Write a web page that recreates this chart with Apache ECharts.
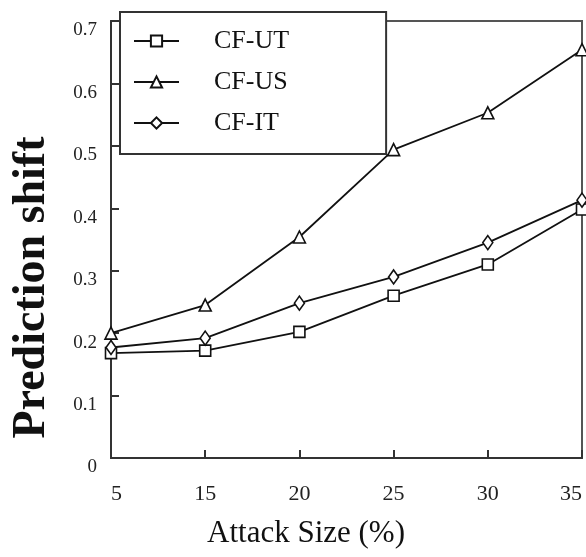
<!DOCTYPE html>
<html>
<head>
<meta charset="utf-8">
<script src="https://cdn.jsdelivr.net/npm/echarts@6/dist/echarts.min.js"></script>
<style>html,body{margin:0;padding:0;background:#fff}#c{width:586px;height:557px}</style>
</head>
<body>
<div id="c"></div>
<script>
const categories = ['5', '15', '20', '25', '30', '35'];
const cfUT = [0.168, 0.172, 0.202, 0.260, 0.310, 0.398];
const cfUS = [0.200, 0.245, 0.354, 0.494, 0.553, 0.654];
const cfIT = [0.177, 0.192, 0.248, 0.290, 0.345, 0.413];
const yTicks = [0, 0.1, 0.2, 0.3, 0.4, 0.5, 0.6, 0.7];

const serif = '"Liberation Serif", "DejaVu Serif", serif';
const chart = echarts.init(document.getElementById('c'));

function mk(name, data, symbol, size) {
  return {
    name, type: 'line', data, symbol, symbolSize: size,
    showAllSymbol: true,
    lineStyle: { color: '#111', width: 1.8 },
    itemStyle: { color: '#fff', borderColor: '#111', borderWidth: 1.6 },
    emphasis: { disabled: true },
    z: 3
  };
}

chart.setOption({
  animation: false,
  backgroundColor: '#fff',
  grid: {
    left: 111, right: 4, top: 21, bottom: 99,
    containLabel: false,
    outerBoundsMode: 'none',
    show: true, borderColor: '#555', borderWidth: 2, backgroundColor: 'transparent'
  },
  legend: {
    orient: 'vertical',
    left: 120, top: 12,
    padding: [16, 97, 18, 13],
    itemWidth: 45, itemHeight: 14, itemGap: 15,
    backgroundColor: '#fff',
    borderColor: '#333', borderWidth: 2,
    textStyle: { fontFamily: serif, fontSize: 26, color: '#111', padding: [0, 0, 0, 30] },
    data: ['CF-UT', 'CF-US', 'CF-IT'],
    z: 10
  },
  xAxis: {
    type: 'category',
    data: categories,
    boundaryGap: false,
    name: 'Attack Size (%)',
    nameLocation: 'middle',
    nameGap: 60,
    nameTextStyle: { fontFamily: serif, fontSize: 31, color: '#111', padding: [0, 81, 0, 0] },
    axisLine: { lineStyle: { color: '#333', width: 2 } },
    axisTick: { inside: true, length: 8, alignWithLabel: true, lineStyle: { color: '#333', width: 2 } },
    axisLabel: { fontFamily: serif, fontSize: 22, color: '#222', margin: 25, alignMinLabel: 'left', alignMaxLabel: 'right' },
    splitLine: { show: false }
  },
  yAxis: {
    type: 'value',
    min: 0, max: 0.7, interval: 0.1,
    name: 'Prediction shift',
    nameLocation: 'middle',
    nameGap: 56,
    nameTextStyle: { fontFamily: serif, fontSize: 46, fontWeight: 'bold', color: '#111', padding: [0, 96, 0, 0] },
    axisLine: { show: true, lineStyle: { color: '#333', width: 2 } },
    axisTick: { show: true, inside: true, length: 8, lineStyle: { color: '#333', width: 2 } },
    axisLabel: {
      fontFamily: serif, fontSize: 19, color: '#222', margin: 14, verticalAlign: 'top',
      formatter: v => { const t = yTicks.find(x => Math.abs(x - v) < 1e-9); return t === undefined ? '' : String(t); }
    },
    splitLine: { show: false }
  },
  series: [
    mk('CF-UT', cfUT, 'rect', 11),
    mk('CF-US', cfUS, 'triangle', 12),
    mk('CF-IT', cfIT, 'diamond', [10, 14])
  ]
});
</script>
</body>
</html>
